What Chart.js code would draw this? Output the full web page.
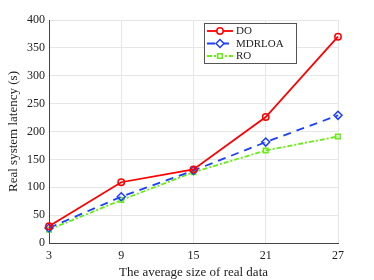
<!DOCTYPE html>
<html><head><meta charset="utf-8">
<script src="https://cdn.jsdelivr.net/npm/chart.js@4/dist/chart.umd.min.js"></script>
<style>html,body{margin:0;padding:0;background:#fff;}#wrap{width:374px;height:280px;}</style>
</head><body><div id="wrap"><canvas id="c" width="374" height="280"></canvas></div>
<script>
const categories = ['3','9','15','21','27'];
const seriesNames = ['DO','MDRLOA','RO'];
const doValues = [30, 109, 132, 226, 370];
const mdrloaValues = [27, 83, 130, 181, 229];
const roValues = [24, 77, 127, 166, 191];
const yTicks = [0,50,100,150,200,250,300,350,400];

const FONT = '"Liberation Serif", "DejaVu Serif", serif';

const legendPlugin = {
  id: 'boxLegend',
  afterDraw(chart) {
    const ctx = chart.ctx;
    const x0 = 204, y0 = 23, w = 92, h = 40;
    ctx.save();
    ctx.fillStyle = '#fff';
    ctx.fillRect(x0, y0, w, h);
    ctx.strokeStyle = '#555';
    ctx.lineWidth = 1;
    ctx.strokeRect(x0 + 0.5, y0 + 0.5, w, h);
    chart.data.datasets.forEach((ds, i) => {
      const yy = y0 + 8 + i * 12.5;
      ctx.strokeStyle = ds.borderColor;
      ctx.lineWidth = ds.borderWidth;
      ctx.setLineDash(ds.borderDash || []);
      ctx.beginPath(); ctx.moveTo(207, yy); ctx.lineTo(233, yy); ctx.stroke();
      ctx.setLineDash([]);
      ctx.lineWidth = 1.5;
      ctx.fillStyle = '#fff';
      Chart.helpers.drawPoint(ctx, {pointStyle: ds.pointStyle, radius: ds.pointRadius, borderWidth: 1.5, rotation: 0}, 220, yy);
      ctx.fillStyle = '#222';
      ctx.font = '11px ' + FONT;
      ctx.textBaseline = 'middle';
      ctx.fillText(ds.label, 236, yy + 0.5);
    });
    ctx.restore();
  }
};

new Chart(document.getElementById('c'), {
  type: 'line',
  data: {
    labels: categories,
    datasets: [
      {label: seriesNames[0], data: doValues, borderColor: '#ff0000', backgroundColor: '#ffffff', borderWidth: 1.8, pointStyle: 'circle', pointRadius: 3.2, pointBorderWidth: 1.5, pointBackgroundColor: 'rgba(255,255,255,0)'},
      {label: seriesNames[1], data: mdrloaValues, borderColor: '#1f3fff', backgroundColor: '#ffffff', borderWidth: 1.8, borderDash: [8, 6], pointStyle: 'rectRot', pointRadius: 4, pointBorderWidth: 1.5, pointBackgroundColor: 'rgba(255,255,255,0)'},
      {label: seriesNames[2], data: roValues, borderColor: '#66ee11', backgroundColor: '#ffffff', borderWidth: 1.8, borderDash: [5, 2, 2, 2], pointStyle: 'rect', pointRadius: 3.2, pointBorderWidth: 1.5, pointBackgroundColor: 'rgba(255,255,255,0)'}
    ]
  },
  options: {
    responsive: false,
    animation: false,
    devicePixelRatio: 1,
    layout: {padding: {top: 20, right: 36, left: 0, bottom: 0}},
    plugins: {legend: {display: false}, tooltip: {enabled: false}},
    scales: {
      x: {
        type: 'category', offset: false,
        grid: {color: '#e6e6e6', drawTicks: false},
        border: {color: '#444', width: 1},
        ticks: {color: '#222', font: {family: FONT, size: 12}, padding: 6, maxRotation: 0},
        title: {display: true, text: 'The average size of real data', color: '#222', font: {family: FONT, size: 13}, padding: {top: 2, bottom: 0}},
        afterFit(s) { s.height = 37; }
      },
      y: {
        min: 0, max: 400,
        afterBuildTicks(s) { s.ticks = yTicks.map(v => ({value: v})); },
        grid: {color: '#e6e6e6', drawTicks: false},
        border: {color: '#444', width: 1},
        ticks: {color: '#222', font: {family: FONT, size: 12}, padding: 4},
        title: {display: true, text: 'Real system latency (s)', color: '#222', font: {family: FONT, size: 13}, padding: {top: 6, bottom: 0}},
        afterFit(s) { s.width = 49; }
      }
    }
  },
  plugins: [legendPlugin]
});
</script>
</body></html>
